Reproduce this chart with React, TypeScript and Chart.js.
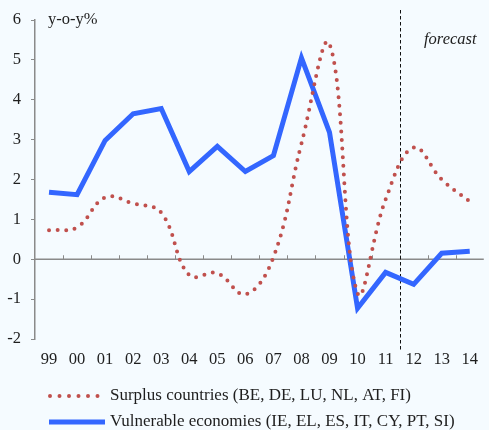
import React, { useEffect, useRef } from 'react';
import { Chart, registerables } from 'chart.js';

Chart.register(...registerables);

const categories = ['99', '00', '01', '02', '03', '04', '05', '06', '07', '08', '09', '10', '11', '12', '13', '14'];
const surplus = [0.73, 0.8, 1.55, 1.4, 1.17, -0.4, -0.35, -0.88, 0.05, 2.9, 5.4, -0.85, 1.5, 2.8, 2.0, 1.45];
const vulnerable = [1.68, 1.62, 2.98, 3.65, 3.78, 2.2, 2.83, 2.2, 2.6, 5.05, 3.18, -1.23, -0.33, -0.63, 0.15, 0.2];
const yMin = -2;
const yMax = 6;
const forecastAfter = '11';
const unitLabel = 'y-o-y%';
const forecastLabel = 'forecast';
const seriesNames = [
  'Surplus countries (BE, DE, LU, NL, AT, FI)',
  'Vulnerable economies (IE, EL, ES, IT, CY, PT, SI)',
];

const RED = '#c0504d';
const BLUE = '#3366ff';
const AXIS = '#8a8a8a';
const TEXT = '#1e1e1e';
const FONT = '"Liberation Serif", "Times New Roman", serif';
const FS = 16.5;
const LFS = 17;

const extras = {
  id: 'extras',
  beforeDatasetsDraw(chart: any) {
    const { ctx, chartArea, scales } = chart;
    const x = scales.x;
    const y = scales.y;
    const y0 = y.getPixelForValue(0);
    ctx.save();
    ctx.strokeStyle = AXIS;
    ctx.lineWidth = 1.5;
    ctx.beginPath();
    ctx.moveTo(chartArea.left, y0);
    ctx.lineTo(chartArea.right, y0);
    ctx.stroke();
    ctx.lineWidth = 1;
    for (let i = 1; i < categories.length; i++) {
      const px = Math.round((x.getPixelForValue(i - 1) + x.getPixelForValue(i)) / 2) + 0.5;
      ctx.beginPath();
      ctx.moveTo(px, y0);
      ctx.lineTo(px, y0 - 4);
      ctx.stroke();
    }
    const idx = categories.indexOf(forecastAfter);
    const fx = Math.round((x.getPixelForValue(idx) + x.getPixelForValue(idx + 1)) / 2) + 0.5;
    ctx.strokeStyle = '#111';
    ctx.lineWidth = 1;
    ctx.setLineDash([3.5, 2.5]);
    ctx.beginPath();
    ctx.moveTo(fx, 10);
    ctx.lineTo(fx, 350);
    ctx.stroke();
    ctx.restore();
  },
  afterDraw(chart: any) {
    const { ctx, chartArea } = chart;
    ctx.save();
    ctx.fillStyle = TEXT;
    ctx.textBaseline = 'middle';
    ctx.font = `${FS}px ${FONT}`;
    ctx.textAlign = 'left';
    ctx.fillText(unitLabel, chartArea.left + 13, chartArea.top);
    ctx.font = `italic ${FS}px ${FONT}`;
    ctx.fillText(forecastLabel, 424, 40);

    ctx.font = `${LFS}px ${FONT}`;
    ctx.strokeStyle = RED;
    ctx.lineWidth = 4;
    ctx.lineCap = 'round';
    ctx.setLineDash([0, 9.5]);
    ctx.beginPath();
    ctx.moveTo(50, 396);
    ctx.lineTo(99, 396);
    ctx.stroke();
    ctx.setLineDash([]);
    ctx.strokeStyle = BLUE;
    ctx.lineWidth = 5;
    ctx.lineCap = 'butt';
    ctx.beginPath();
    ctx.moveTo(49, 422);
    ctx.lineTo(105, 422);
    ctx.stroke();
    ctx.fillText(seriesNames[0], 110, 396);
    ctx.fillText(seriesNames[1], 110, 422);
    ctx.restore();
  },
};

export default function App() {
  const ref = useRef<HTMLCanvasElement>(null);
  useEffect(() => {
    if (!ref.current) return;
    const chart = new Chart(ref.current, {
      type: 'line',
      data: {
        labels: categories,
        datasets: [
          {
            label: seriesNames[0],
            data: surplus,
            borderColor: RED,
            borderWidth: 4,
            borderDash: [0, 8.6],
            borderCapStyle: 'round',
            pointRadius: 0,
            tension: 0.4,
            fill: false,
          },
          {
            label: seriesNames[1],
            data: vulnerable,
            borderColor: BLUE,
            borderWidth: 5,
            borderJoinStyle: 'miter',
            pointRadius: 0,
            tension: 0,
            fill: false,
          },
        ],
      },
      options: {
        animation: false,
        responsive: true,
        maintainAspectRatio: false,
        layout: { padding: { top: 20, left: 0, right: 0, bottom: 0 } },
        plugins: { legend: { display: false }, tooltip: { enabled: false } },
        scales: {
          x: {
            offset: true,
            grid: { display: false, drawTicks: false },
            border: { display: false },
            ticks: { color: TEXT, font: { family: FONT, size: FS }, padding: 11, maxRotation: 0, autoSkip: false },
            afterFit: (s: any) => { s.height = 91; },
          },
          y: {
            min: yMin,
            max: yMax,
            grid: { drawOnChartArea: false, drawTicks: true, tickLength: 4, color: AXIS, lineWidth: 1 },
            border: { display: true, color: AXIS, width: 1.5 },
            ticks: { stepSize: 1, color: TEXT, font: { family: FONT, size: FS }, padding: 10 },
            afterFit: (s: any) => { s.width = 35; },
          },
        },
      },
      plugins: [extras],
    });
    return () => chart.destroy();
  }, []);
  return (
    <div style={{ position: 'fixed', left: 0, top: 0, width: 489, height: 430, background: '#f5fbff' }}>
      <canvas ref={ref} />
    </div>
  );
}
